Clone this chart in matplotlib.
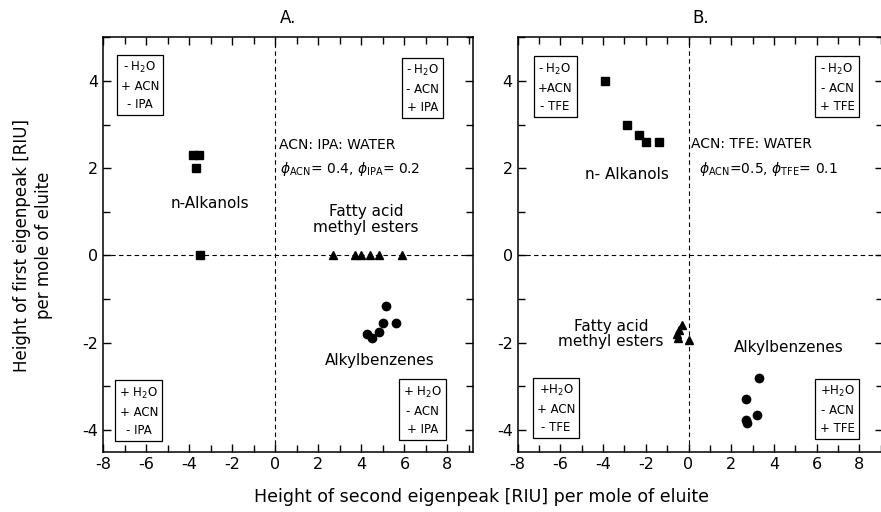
import matplotlib
matplotlib.use('Agg')
import matplotlib.pyplot as plt
from matplotlib.ticker import MultipleLocator

# panel A: ACN / IPA / water
a_alk_x = [-3.85, -3.55, -3.7, -3.5]
a_alk_y = [2.3, 2.3, 2.0, 0.0]
a_fame_x = [2.7, 3.7, 4.0, 4.4, 4.8, 5.9]
a_fame_y = [0.0, 0.0, 0.0, 0.0, 0.0, 0.0]
a_benz_x = [5.15, 5.0, 5.6, 4.8, 4.5, 4.25]
a_benz_y = [-1.15, -1.55, -1.55, -1.75, -1.9, -1.8]

# panel B: ACN / TFE / water
b_alk_x = [-3.9, -2.9, -2.3, -2.0, -1.4]
b_alk_y = [4.0, 3.0, 2.75, 2.6, 2.6]
b_fame_x = [-0.3, -0.45, -0.55, -0.5, 0.0]
b_fame_y = [-1.6, -1.7, -1.8, -1.9, -1.95]
b_benz_x = [3.3, 2.7, 3.2, 2.7, 2.75]
b_benz_y = [-2.82, -3.3, -3.65, -3.77, -3.85]

a_boxes = [r'- H$_2$O' + '\n+ ACN\n- IPA', r'- H$_2$O' + '\n- ACN\n+ IPA',
           r'+ H$_2$O' + '\n+ ACN\n- IPA', r'+ H$_2$O' + '\n- ACN\n+ IPA']
b_boxes = [r'- H$_2$O' + '\n+ACN\n- TFE', r'- H$_2$O' + '\n- ACN\n+ TFE',
           r'+H$_2$O' + '\n+ ACN\n- TFE', r'+H$_2$O' + '\n- ACN\n+ TFE']

plt.rcParams['font.family'] = ['DejaVu Sans']
plt.rcParams['mathtext.fontset'] = 'dejavusans'

fig = plt.figure(figsize=(8.81, 5.12), dpi=100)
axA = fig.add_axes([0.1173, 0.1178, 0.4199, 0.8093])
axB = fig.add_axes([0.5876, 0.1178, 0.4146, 0.8093])


def setup(ax, xmax):
    ax.set_xlim(-8, xmax)
    ax.set_ylim(-4.5, 5)
    ax.xaxis.set_major_locator(MultipleLocator(2))
    ax.xaxis.set_minor_locator(MultipleLocator(1))
    ax.yaxis.set_major_locator(MultipleLocator(2))
    ax.yaxis.set_minor_locator(MultipleLocator(1))
    ax.tick_params(which='both', direction='in', top=True, right=True,
                   labelsize=11.5, width=1.0)
    ax.tick_params(which='major', length=6)
    ax.tick_params(which='minor', length=5)
    ax.set_xticks([-8, -6, -4, -2, 0, 2, 4, 6, 8])
    ax.set_xticklabels(['-8', '-6', '-4', '-2', '0', '2', '4', '6', '8'])
    ax.set_yticks([-4, -2, 0, 2, 4])
    ax.set_yticklabels(['-4', '-2', '0', '2', '4'])
    for s in ax.spines.values():
        s.set_linewidth(1.1)
    ax.axvline(0, color='black', lw=0.8, ls=(0, (4, 3)))
    ax.axhline(0, color='black', lw=0.8, ls=(0, (4, 3)))


def boxes(ax, labels, xs, ys):
    for lab, x, y in zip(labels, xs, ys):
        ax.text(x, y, lab, ha='center', va='center', fontsize=8.5,
                linespacing=1.5,
                bbox=dict(boxstyle='square,pad=0.35', fc='white', ec='black', lw=0.9))


setup(axA, 9.2)
axA.plot(a_alk_x, a_alk_y, 's', color='black', ms=6)
axA.plot(a_fame_x, a_fame_y, '^', color='black', ms=6)
axA.plot(a_benz_x, a_benz_y, 'o', color='black', ms=6)
boxes(axA, a_boxes, [-6.3, 6.85, -6.35, 6.85], [3.9, 3.83, -3.57, -3.55])
axA.text(0.15, 2.53, 'ACN: IPA: WATER', fontsize=10, va='center')
axA.text(0.2, 1.97, r'$\phi_{\mathrm{ACN}}$= 0.4, $\phi_{\mathrm{IPA}}$= 0.2', fontsize=10, va='center')
axA.text(-3.05, 1.2, 'n-Alkanols', fontsize=11, ha='center', va='center')
axA.text(4.22, 0.82, 'Fatty acid\nmethyl esters', fontsize=11, ha='center', va='center',
         linespacing=1.1)
axA.text(4.85, -2.4, 'Alkylbenzenes', fontsize=11, ha='center', va='center')
axA.set_title('A.', fontsize=12, pad=10)

setup(axB, 9.1)
axB.plot(b_alk_x, b_alk_y, 's', color='black', ms=6)
axB.plot(b_fame_x, b_fame_y, '^', color='black', ms=6)
axB.plot(b_benz_x, b_benz_y, 'o', color='black', ms=6)
boxes(axB, b_boxes, [-6.25, 6.95, -6.2, 6.95], [3.86, 3.86, -3.51, -3.54])
axB.text(0.1, 2.56, 'ACN: TFE: WATER', fontsize=10, va='center')
axB.text(0.5, 1.98, r'$\phi_{\mathrm{ACN}}$=0.5, $\phi_{\mathrm{TFE}}$= 0.1', fontsize=10, va='center')
axB.text(-2.9, 1.85, 'n- Alkanols', fontsize=11, ha='center', va='center')
axB.text(-3.64, -1.8, 'Fatty acid\nmethyl esters', fontsize=11, ha='center', va='center',
         linespacing=1.0)
axB.text(4.69, -2.1, 'Alkylbenzenes', fontsize=11, ha='center', va='center')
axB.set_title('B.', fontsize=12, pad=10)

fig.text(0.025, 0.52, 'Height of first eigenpeak [RIU]', rotation=90,
         fontsize=12, ha='center', va='center')
fig.text(0.05, 0.52, 'per mole of eluite', rotation=90,
         fontsize=12, ha='center', va='center')
fig.text(0.546, 0.03, 'Height of second eigenpeak [RIU] per mole of eluite',
         fontsize=12.5, ha='center', va='center')

fig.savefig('out.png', dpi=100)
